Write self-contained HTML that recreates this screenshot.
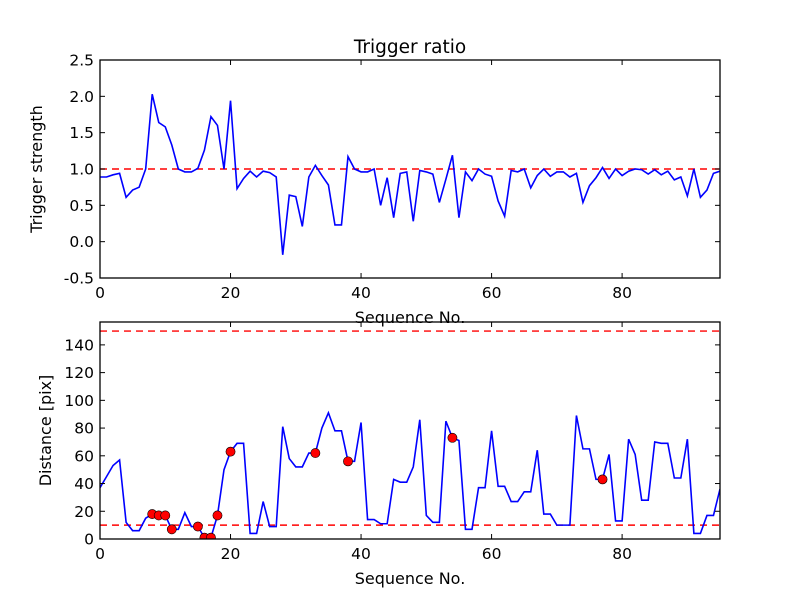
<!DOCTYPE html>
<html><head><meta charset="utf-8"><style>
html,body{margin:0;padding:0;background:#fff;}
svg{display:block;font-family:"DejaVu Sans","Liberation Sans",sans-serif;}
</style></head><body>
<svg id="chart" width="800" height="600" viewBox="0 0 800 600" xmlns="http://www.w3.org/2000/svg">
<rect width="800" height="600" fill="#fff"/>
<text x="410" y="53" font-size="18.5" text-anchor="middle">Trigger ratio</text>
<g id="top"></g><g id="bot"></g>
</svg>
<script>
const seqIdx = Array.from({length:96},(_, i)=>i);
const strength = [0.89,0.89,0.92,0.94,0.61,0.71,0.75,1.0,2.03,1.64,1.58,1.33,1.0,0.96,0.96,1.01,1.26,1.72,1.6,1.0,1.94,0.73,0.87,0.97,0.89,0.97,0.95,0.89,-0.18,0.64,0.62,0.21,0.89,1.05,0.91,0.78,0.23,0.23,1.17,1.0,0.96,0.96,1.0,0.5,0.88,0.33,0.94,0.96,
0.28,0.98,0.96,0.93,0.54,0.86,1.19,0.33,0.96,0.84,1.0,0.93,0.9,0.56,0.35,0.98,0.96,1.0,0.74,0.91,1.0,0.9,0.96,0.96,0.89,0.94,0.54,0.77,0.88,1.02,0.87,1.0,0.91,0.97,1.0,0.99,0.93,0.99,0.92,0.97,0.85,0.89,0.63,1.0,0.61,0.71,0.94,0.97];
const distance = [37,45,53,57,12,6,6,15,18,17,17,7,7,19,9,9,1,1,17,50,63,69,69,4,4,27,9,9,81,58,52,52,62,62,80,91,78,78,56,56,84,14,14,11,11,43,41,41,
52,86,17,12,12,85,73,71,7,7,37,37,78,38,38,27,27,34,34,64,18,18,10,10,10,89,65,65,43,43,61,13,13,72,61,28,28,70,69,69,44,44,72,4,4,17,17,36];
const flagged = [8,9,10,11,15,16,17,18,20,33,38,54,77];
const topTicks = [-0.5,0,0.5,1.0,1.5,2.0,2.5];
const botTicks = [0,20,40,60,80,100,120,140];
const xTicks = [0,20,40,60,80];
const topThresh = [1.0];
const botThresh = [10,150];

const NS="http://www.w3.org/2000/svg";
function mk(parent,tag,attrs){const e=document.createElementNS(NS,tag);for(const k in attrs)e.setAttribute(k,attrs[k]);parent.appendChild(e);return e;}

function panel(g,o){
  const {L,R,T,B,ymin,ymax,xmin,xmax}=o;
  const sx=v=>L+(v-xmin)/(xmax-xmin)*(R-L);
  const sy=v=>B-(v-ymin)/(ymax-ymin)*(B-T);
  const clipId=o.id+'-clip';
  const cp=mk(g,'clipPath',{id:clipId});mk(cp,'rect',{x:L,y:T,width:R-L,height:B-T});
  const plot=mk(g,'g',{'clip-path':'url(#'+clipId+')'});
  o.thresh.forEach(t=>{
    const ln=mk(plot,'line',{x1:L,x2:R,y1:sy(t),y2:sy(t),stroke:'#ff0000','stroke-width':1.4,'stroke-dasharray':'7,5'});
    
    
  });
  const pts=seqIdx.map((x,i)=>sx(x).toFixed(2)+','+sy(o.data[i]).toFixed(2)).join(' ');
  const pl=mk(plot,'polyline',{points:pts,fill:'none',stroke:'#0000ff','stroke-width':1.6});
  
  
  if(o.markers){o.markers.forEach(i=>{
    const c=mk(plot,'circle',{cx:sx(seqIdx[i]),cy:sy(o.data[i]),r:4.6,fill:'#ff0000',stroke:'#000','stroke-width':0.6});
    
    
  });}
  const fr=mk(g,'rect',{x:L,y:T,width:R-L,height:B-T,fill:'none',stroke:'#000','stroke-width':1.3});
  
  
  o.yticks.forEach(t=>{
    const y=sy(t);
    mk(g,'line',{x1:L,x2:L+5,y1:y,y2:y,stroke:'#000'});
    mk(g,'line',{x1:R,x2:R-5,y1:y,y2:y,stroke:'#000'});
    const tx=mk(g,'text',{x:L-6,y:y+5.5,'font-size':15.5,'text-anchor':'end'});
    tx.textContent=o.fmt(t);
    
    
  });
  xTicks.forEach(t=>{
    const x=sx(t);
    mk(g,'line',{x1:x,x2:x,y1:B,y2:B-5,stroke:'#000'});
    mk(g,'line',{x1:x,x2:x,y1:T,y2:T+5,stroke:'#000'});
    const tx=mk(g,'text',{x:x,y:B+20,'font-size':15.5,'text-anchor':'middle'});
    tx.textContent=String(t);
    
    
  });
  const xl=mk(g,'text',{x:(L+R)/2,y:B+45,'font-size':16,'text-anchor':'middle'});
  xl.textContent='Sequence No.';
  
  
  const yl=mk(g,'text',{x:0,y:0,'font-size':16,'text-anchor':'middle',transform:'translate('+o.ylx+','+((T+B)/2)+') rotate(-90)'});
  yl.textContent=o.ylabel;
  
  
}
panel(document.getElementById('top'),{id:'top',L:100,R:720,T:60,B:278,xmin:0,xmax:95,ymin:-0.5,ymax:2.5,data:strength,thresh:topThresh,yticks:topTicks,fmt:t=>t.toFixed(1),ylabel:'Trigger strength',ylx:42});
panel(document.getElementById('bot'),{id:'bot',L:100,R:720,T:322,B:539,xmin:0,xmax:95,ymin:0,ymax:156.5,data:distance,thresh:botThresh,yticks:botTicks,fmt:t=>String(t),markers:flagged,ylabel:'Distance [pix]',ylx:51});
</script>
</body></html>
